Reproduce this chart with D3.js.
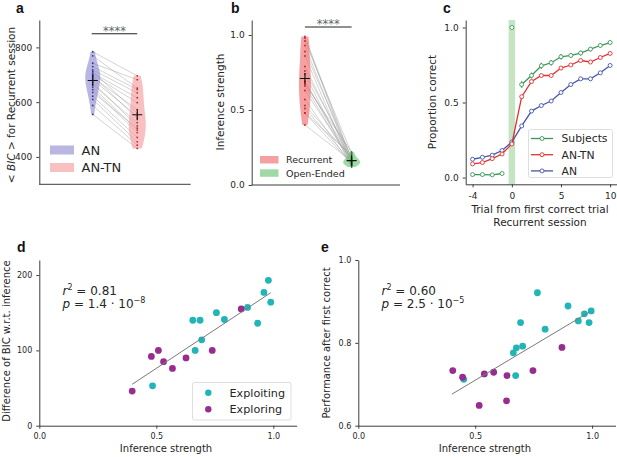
<!DOCTYPE html>
<html lang="en">
<head>
<meta charset="UTF-8">
<title>Inference strength figure</title>
<script src="https://cdn.jsdelivr.net/npm/d3@7"></script>
<style>
  body { margin: 0; background: #fff; }
  svg { display: block; font-family: "DejaVu Sans", sans-serif; }
</style>
</head>
<body>
<svg id="fig" width="617" height="457"></svg>
<script>
// ---- panel a: <BIC> per subject, AN vs AN-TN (same subject order)
const bicAN   = [784, 769, 742, 730, 718, 712, 706, 700, 696, 690, 682, 672, 664, 655, 646, 636, 622, 610, 588, 555];
const bicANTN = [696, 651, 682, 646, 634, 560, 616, 598, 540, 573, 549, 513, 525, 498, 489, 505, 471, 455, 443, 431];
const bicTicks = [400, 600, 800];

// ---- panel b: inference strength, recurrent vs open-ended
const inferRecurrent = [0.99, 0.98, 0.96, 0.93, 0.89, 0.86, 0.79, 0.76, 0.74, 0.69, 0.69, 0.67, 0.66, 0.63, 0.57, 0.53, 0.51, 0.48, 0.48, 0.40];
const inferOpenEnded = [0.17, 0.15, 0.21, 0.14, 0.18, 0.13, 0.16, 0.19, 0.12, 0.17, 0.15, 0.22, 0.14, 0.16, 0.13, 0.18, 0.15, 0.20, 0.14, 0.16];
const unitTicks = [0, 0.5, 1.0];

// ---- panel c: proportion correct around first correct trial
const trials          = [-4, -3, -2, -1, 0, 1, 2, 3, 4, 5, 6, 7, 8, 9, 10];
const subjectsCorrect = [0.02, 0.02, 0.018, 0.027, 1.0, 0.62, 0.68, 0.745, 0.765, 0.805, 0.814, 0.83, 0.856, 0.88, 0.90];
const subjectsErr     = [0.004, 0.004, 0.004, 0.004, 0, 0.022, 0.02, 0.02, 0.018, 0.018, 0.016, 0.016, 0.015, 0.014, 0.013];
const antnCorrect     = [0.091, 0.10, 0.126, 0.157, 0.224, 0.539, 0.64, 0.68, 0.68, 0.73, 0.75, 0.78, 0.77, 0.80, 0.827];
const anCorrect       = [0.122, 0.135, 0.149, 0.18, 0.237, 0.344, 0.443, 0.48, 0.51, 0.567, 0.62, 0.658, 0.658, 0.698, 0.747];
const trialTicks = [-4, 0, 5, 10];

// ---- panel d: BIC difference vs inference strength
const dExploitX = [0.979, 0.96, 0.989, 0.89, 0.933, 0.757, 0.791, 0.656, 0.687, 0.694, 0.666, 0.484];
const dExploitY = [193, 177, 164, 157, 136, 150, 141, 140, 140, 114, 100, 53];
const dExploreX = [0.863, 0.739, 0.627, 0.569, 0.531, 0.509, 0.479, 0.397];
const dExploreY = [155, 100, 90, 76, 85, 100, 92, 46];
const dFitX = [0.397, 0.989];
const dFitY = [55, 176.5];
const bicDiffTicks = [0, 100, 200];

// ---- panel e: performance after first correct vs inference strength
const eExploitX = [0.766, 0.897, 0.967, 0.996, 0.941, 0.987, 0.799, 0.694, 0.703, 0.676, 0.663, 0.673, 0.451];
const eExploitY = [0.921, 0.889, 0.870, 0.877, 0.853, 0.849, 0.833, 0.849, 0.792, 0.788, 0.776, 0.721, 0.712];
const eExploreX = [0.404, 0.446, 0.539, 0.579, 0.636, 0.747, 0.871, 0.517, 0.634];
const eExploreY = [0.733, 0.717, 0.725, 0.729, 0.721, 0.733, 0.789, 0.649, 0.660];
const eFitX = [0.40, 0.99];
const eFitY = [0.676, 0.875];
const perfTicks = [0.6, 0.8, 1.0];

// ---------------------------------------------------------------
const svg = d3.select('#fig');
const axisColor = '#3d3d3d';
const textColor = '#262626';
const teal = '#22b5b7', purple = '#982d8f';
const cBlue = '#4656a8', cRed = '#e3302f', cGreen = '#3b9658';

function styleAxis(ax, size) {
  ax.attr('font-family', null).attr('font-size', null);
  ax.select('.domain').attr('stroke', axisColor).attr('stroke-width', 1);
  ax.selectAll('.tick line').attr('stroke', axisColor);
  ax.selectAll('.tick text').attr('fill', textColor).attr('font-size', size);
}

function leftAxis(y, x0, ticks, fmt, size) {
  const ax = svg.append('g').attr('transform', `translate(${x0},0)`)
    .call(d3.axisLeft(y).tickValues(ticks).tickFormat(fmt).tickSizeInner(3).tickSizeOuter(0).tickPadding(4));
  styleAxis(ax, size);
  return ax;
}

function bottomAxis(x, y0, ticks, fmt, size) {
  const ax = svg.append('g').attr('transform', `translate(0,${y0})`)
    .call(d3.axisBottom(x).tickValues(ticks).tickFormat(fmt).tickSizeInner(3).tickSizeOuter(0).tickPadding(5));
  styleAxis(ax, size);
  return ax;
}

function bareBottom(x0, x1, y0) {
  svg.append('line').attr('x1', x0).attr('x2', x1).attr('y1', y0).attr('y2', y0)
    .attr('stroke', axisColor).attr('stroke-width', 1);
}

function panelLetter(t, x, y) {
  svg.append('text').attr('x', x).attr('y', y).text(t)
    .attr('font-family', '"Liberation Sans", Arial, sans-serif')
    .attr('font-weight', 'bold').attr('font-size', 14).attr('fill', '#111');
}

function yLabel(t, x, y, size) {
  return svg.append('text').attr('transform', `translate(${x},${y}) rotate(-90)`)
    .attr('text-anchor', 'middle').attr('font-size', size).attr('fill', textColor).text(t);
}

function xLabel(t, x, y, size) {
  svg.append('text').attr('x', x).attr('y', y).attr('text-anchor', 'middle')
    .attr('font-size', size).attr('fill', textColor).text(t);
}

// gaussian kde with scott bandwidth, cut at data extremes
function kdeCurve(values, n) {
  const bw = d3.deviation(values) * Math.pow(values.length, -0.2);
  const lo = d3.min(values), hi = d3.max(values);
  const pts = d3.range(n + 1).map(i => lo + (hi - lo) * i / n);
  return pts.map(t => [t, d3.mean(values, v => Math.exp(-0.5 * ((t - v) / bw) ** 2))]);
}

function violin(values, cx, y, halfW, fill, dotColor) {
  const dens = kdeCurve(values, 80);
  const mx = d3.max(dens, d => d[1]);
  const area = d3.area()
    .y(d => y(d[0]))
    .x0(d => cx - halfW * d[1] / mx)
    .x1(d => cx + halfW * d[1] / mx);
  svg.append('path').attr('d', area(dens)).attr('fill', fill).attr('stroke', 'none');
  svg.append('g').selectAll('circle').data(values).join('circle')
    .attr('cx', cx).attr('cy', d => y(d)).attr('r', 0.9).attr('fill', dotColor);
}

// mean marker drawn as a "+" of fixed size
function meanPlus(values, cx, y) {
  const cy = y(d3.mean(values));
  svg.append('path').attr('d', `M${cx - 5},${cy}H${cx + 5}M${cx},${cy - 5.5}V${cy + 5.5}`)
    .attr('stroke', '#111').attr('stroke-width', 1.1).attr('fill', 'none');
}

function pairLines(a, b, xa, xb, y) {
  svg.append('g').selectAll('line').data(a).join('line')
    .attr('x1', xa).attr('x2', xb)
    .attr('y1', d => y(d)).attr('y2', (d, i) => y(b[i]))
    .attr('stroke', '#9a9a9a').attr('stroke-width', 0.5).attr('opacity', 0.85);
}

function sigBar(x0, x1, yy) {
  svg.append('line').attr('x1', x0).attr('x2', x1).attr('y1', yy).attr('y2', yy)
    .attr('stroke', '#222').attr('stroke-width', 1.1);
  svg.append('text').attr('x', (x0 + x1) / 2).attr('y', yy + 1).attr('text-anchor', 'middle')
    .attr('font-size', 11.5).attr('fill', '#666').text('****');
}

// ================= panel a =================
{
  const x = d3.scaleLinear().domain([-1.2, 2.2]).range([39.3, 190.7]);
  const y = d3.scaleLinear().domain([300, 900]).range([184.3, 20]);
  pairLines(bicAN, bicANTN, x(0), x(1), y);
  violin(bicAN, x(0), y, 7.5, 'rgba(128,122,202,0.55)', '#35358f');
  violin(bicANTN, x(1), y, 8.5, 'rgba(244,140,142,0.55)', '#c12a36');
  meanPlus(bicAN, x(0), y);
  meanPlus(bicANTN, x(1), y);
  leftAxis(y, 39.3, bicTicks, d3.format('d'), 9);
  bareBottom(39.3, 190.7, 184.3);
  sigBar(x(0) - 1, x(1), y(850));
  panelLetter('a', 16, 12.5);
  const lab = svg.append('text').attr('transform', 'translate(15,105) rotate(-90)')
    .attr('text-anchor', 'middle').attr('font-size', 10.5).attr('fill', textColor);
  lab.append('tspan').text('< ');
  lab.append('tspan').attr('font-style', 'italic').text('BIC');
  lab.append('tspan').text(' > for Recurrent session');
  const leg = [['AN', 'rgba(128,122,202,0.55)'], ['AN-TN', 'rgba(244,140,142,0.55)']];
  leg.forEach((d, i) => {
    svg.append('rect').attr('x', 50).attr('y', 145.5 + i * 17.5).attr('width', 24).attr('height', 9).attr('fill', d[1]);
    svg.append('text').attr('x', 81.5).attr('y', 150 + i * 17.5).attr('dy', '0.36em')
      .attr('font-size', 13).attr('fill', textColor).text(d[0]);
  });
}

// ================= panel b =================
{
  const x = d3.scaleLinear().domain([-1.14, 2.036]).range([251.7, 400]);
  const y = d3.scaleLinear().domain([0, 1.1]).range([185, 20]);
  pairLines(inferRecurrent, inferOpenEnded, x(0), x(1), y);
  violin(inferRecurrent, x(0), y, 6, 'rgba(240,110,112,0.65)', '#c0232c');
  violin(inferOpenEnded, x(1), y, 8.5, 'rgba(110,196,118,0.65)', '#2b7a3b');
  meanPlus(inferRecurrent, x(0), y);
  meanPlus(inferOpenEnded, x(1), y);
  leftAxis(y, 251.7, unitTicks, d3.format('.1f'), 9);
  bareBottom(251.7, 400, 185);
  sigBar(x(0), x(1), y(1.053));
  panelLetter('b', 231, 12.5);
  yLabel('Inference strength', 224, 102, 10.5);
  const leg = [['Recurrent', 'rgba(240,110,112,0.65)'], ['Open-Ended', 'rgba(110,196,118,0.65)']];
  leg.forEach((d, i) => {
    svg.append('rect').attr('x', 260).attr('y', 156 + i * 13.3).attr('width', 18.5).attr('height', 7.5).attr('fill', d[1]);
    svg.append('text').attr('x', 286).attr('y', 159.8 + i * 13.3).attr('dy', '0.36em')
      .attr('font-size', 9.5).attr('fill', textColor).text(d[0]);
  });
}

// ================= panel c =================
{
  const x = d3.scaleLinear().domain([-4.7, 10.7]).range([465.7, 617]);
  const y = d3.scaleLinear().domain([-0.045, 1.05]).range([184.3, 20]);
  svg.append('rect').attr('x', x(-0.33)).attr('width', x(0.33) - x(-0.33))
    .attr('y', 20).attr('height', 164.3).attr('fill', '#c6e4c4');

  const series = [
    { name: 'AN', vals: anCorrect, color: cBlue, gap: false },
    { name: 'AN-TN', vals: antnCorrect, color: cRed, gap: false },
    { name: 'Subjects', vals: subjectsCorrect, color: cGreen, gap: true }
  ];
  series.forEach(s => {
    const pts = trials.map((t, i) => ({ t, v: s.vals[i], e: s.gap ? subjectsErr[i] : 0 }));
    const line = d3.line().defined(d => !(s.gap && d.t === 0)).x(d => x(d.t)).y(d => y(d.v));
    svg.append('path').attr('d', line(pts)).attr('fill', 'none')
      .attr('stroke', s.color).attr('stroke-width', 1.3);
    if (s.gap) {
      svg.append('g').selectAll('line').data(pts.filter(d => d.e > 0)).join('line')
        .attr('x1', d => x(d.t)).attr('x2', d => x(d.t))
        .attr('y1', d => y(d.v - d.e)).attr('y2', d => y(d.v + d.e))
        .attr('stroke', s.color).attr('stroke-width', 1.3);
    }
    svg.append('g').selectAll('circle').data(pts).join('circle')
      .attr('cx', d => x(d.t)).attr('cy', d => y(d.v)).attr('r', 2)
      .attr('fill', '#fff').attr('stroke', s.color).attr('stroke-width', 0.9);
  });

  leftAxis(y, 465.7, unitTicks, d3.format('.1f'), 9);
  bottomAxis(x, 184.3, trialTicks, d => String(d), 9);
  panelLetter('c', 443, 12.5);
  yLabel('Proportion correct', 436, 102, 10.5);
  xLabel('Trial from first correct trial', 540, 213, 10.5);
  xLabel('Recurrent session', 540, 225.5, 10.5);

  // legend
  svg.append('rect').attr('x', 528.5).attr('y', 129.5).attr('width', 84).attr('height', 48)
    .attr('rx', 2).attr('fill', 'rgba(255,255,255,0.85)').attr('stroke', '#d6d6d6').attr('stroke-width', 0.8);
  const legItems = [series[2], series[1], series[0]];
  legItems.forEach((s, i) => {
    const ly = 138.5 + i * 16.2;
    svg.append('line').attr('x1', 531).attr('x2', 553).attr('y1', ly).attr('y2', ly)
      .attr('stroke', s.color).attr('stroke-width', 1.3);
    svg.append('circle').attr('cx', 542).attr('cy', ly).attr('r', 2)
      .attr('fill', '#fff').attr('stroke', s.color).attr('stroke-width', 0.9);
    svg.append('text').attr('x', 561.5).attr('y', ly).attr('dy', '0.36em')
      .attr('font-size', 10.8).attr('fill', textColor).text(s.name);
  });
}

// ================= scatter panels d, e =================
function scatterPanel(opt) {
  const x = d3.scaleLinear().domain([0, 1.1]).range([opt.xL, opt.xR]);
  const y = d3.scaleLinear().domain(opt.yDom).range([425.7, 260]);
  const pts = opt.exX.map((v, i) => ({ x: v, y: opt.exY[i], c: teal }))
    .concat(opt.plX.map((v, i) => ({ x: v, y: opt.plY[i], c: purple })));
  svg.append('g').selectAll('circle').data(pts).join('circle')
    .attr('cx', d => x(d.x)).attr('cy', d => y(d.y)).attr('r', 3.4).attr('fill', d => d.c);
  svg.append('line')
    .attr('x1', x(opt.fitX[0])).attr('y1', y(opt.fitY[0]))
    .attr('x2', x(opt.fitX[1])).attr('y2', y(opt.fitY[1]))
    .attr('stroke', '#7a7a7a').attr('stroke-width', 1);
  leftAxis(y, opt.xL, opt.yTicks, opt.yFmt, 8);
  bottomAxis(x, 425.7, unitTicks, d3.format('.1f'), 8);
  xLabel('Inference strength', (opt.xL + opt.xR) / 2 - 2, 452, 10);

  const t1 = svg.append('text').attr('x', opt.statX).attr('y', 295).attr('font-size', 12).attr('fill', textColor);
  t1.append('tspan').attr('font-style', 'italic').text('r');
  t1.append('tspan').attr('font-size', 8).attr('dy', -5).text('2');
  t1.append('tspan').attr('dy', 5).text(' = ' + opt.r2);
  const t2 = svg.append('text').attr('x', opt.statX).attr('y', 308).attr('font-size', 12).attr('fill', textColor);
  t2.append('tspan').attr('font-style', 'italic').text('p');
  t2.append('tspan').text(' = ' + opt.pMant + ' · 10');
  t2.append('tspan').attr('font-size', 8).attr('dy', -5).text('−' + opt.pExp);
}

scatterPanel({
  xL: 39.3, xR: 296.7, yDom: [0, 220], yTicks: bicDiffTicks, yFmt: d3.format('d'),
  exX: dExploitX, exY: dExploitY, plX: dExploreX, plY: dExploreY,
  fitX: dFitX, fitY: dFitY, statX: 62.5, r2: '0.81', pMant: '1.4', pExp: '8'
});
panelLetter('d', 17, 251.5);
yLabel('Difference of BIC w.r.t. inference', 10, 341, 10);
// legend d
svg.append('rect').attr('x', 192.5).attr('y', 382.5).attr('width', 98.5).attr('height', 37.5)
  .attr('rx', 2).attr('fill', 'rgba(255,255,255,0.85)').attr('stroke', '#d6d6d6').attr('stroke-width', 0.8);
[['Exploiting', teal], ['Exploring', purple]].forEach((d, i) => {
  const ly = 392.7 + i * 16.6;
  svg.append('circle').attr('cx', 208.3).attr('cy', ly).attr('r', 3.2).attr('fill', d[1]);
  svg.append('text').attr('x', 229.5).attr('y', ly).attr('dy', '0.36em')
    .attr('font-size', 11.2).attr('fill', textColor).text(d[0]);
});

scatterPanel({
  xL: 358.3, xR: 615.5, yDom: [0.6, 1.0], yTicks: perfTicks, yFmt: d3.format('.1f'),
  exX: eExploitX, exY: eExploitY, plX: eExploreX, plY: eExploreY,
  fitX: eFitX, fitY: eFitY, statX: 381.5, r2: '0.60', pMant: '2.5', pExp: '5'
});
panelLetter('e', 321, 251.5);
yLabel('Performance after first correct', 330, 343, 10);
</script>
</body>
</html>
